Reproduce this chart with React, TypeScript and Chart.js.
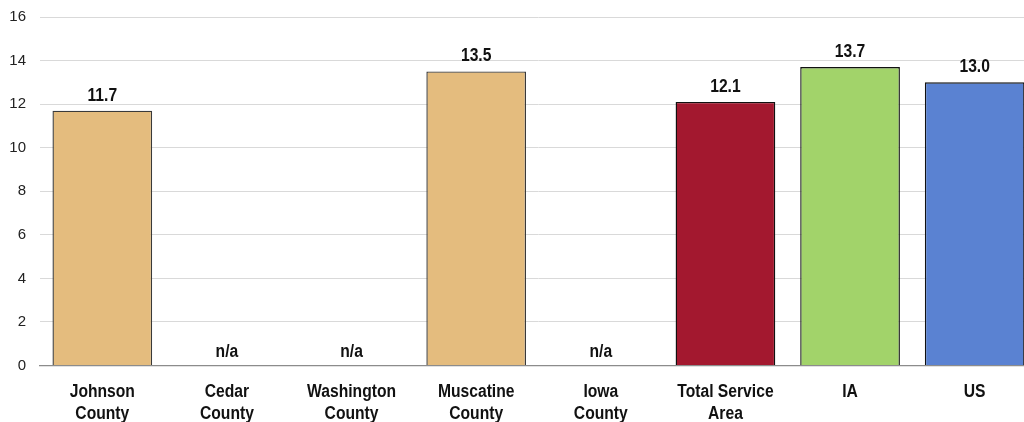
import React, { useEffect, useRef } from "react";
import { Chart, registerables } from "chart.js";

Chart.register(...registerables);

const categories: string[][] = [
  ["Johnson", "County"],
  ["Cedar", "County"],
  ["Washington", "County"],
  ["Muscatine", "County"],
  ["Iowa", "County"],
  ["Total Service", "Area"],
  ["IA"],
  ["US"],
];
const values: (number | null)[] = [11.7, null, null, 13.5, null, 12.1, 13.7, 13.0];
const barColors: string[] = ["#E4BC7E", "#E4BC7E", "#E4BC7E", "#E4BC7E", "#E4BC7E", "#A3182F", "#A2D36A", "#5A82D2"];
const borderColors: string[] = ["#3a3a3a", "#3a3a3a", "#3a3a3a", "#3a3a3a", "#3a3a3a", "#111111", "#111111", "#111111"];
const yTicks: number[] = [0, 2, 4, 6, 8, 10, 12, 14, 16];

const FONT = "'Liberation Sans', Arial, sans-serif";
const SQUEEZE = 0.87;

function drawCondensed(ctx: CanvasRenderingContext2D, text: string, x: number, y: number) {
  ctx.save();
  ctx.translate(x, y);
  ctx.scale(SQUEEZE, 1);
  ctx.fillText(text, 0, 0);
  ctx.restore();
}

const labelPlugin = {
  id: "valueLabels",
  afterDatasetsDraw(chart: any) {
    const ctx = chart.ctx;
    const meta = chart.getDatasetMeta(0);
    const yScale = chart.scales.y;
    const xScale = chart.scales.x;
    const zero = yScale.getPixelForValue(0);
    ctx.save();
    ctx.fillStyle = "#111";
    ctx.textAlign = "center";
    ctx.textBaseline = "alphabetic";
    ctx.font = `bold 18px ${FONT}`;
    meta.data.forEach((bar: any, i: number) => {
      const v = values[i];
      if (v === null) {
        drawCondensed(ctx, "n/a", bar.x, zero - 9);
      } else {
        drawCondensed(ctx, v.toFixed(1), bar.x, bar.y - 10);
      }
    });
    categories.forEach((lines, i) => {
      const x = xScale.getPixelForValue(i);
      lines.forEach((line, j) => {
        drawCondensed(ctx, line, x, zero + 31.5 + j * 22);
      });
    });
    ctx.restore();
  },
};

export default function App() {
  const ref = useRef<HTMLCanvasElement | null>(null);
  useEffect(() => {
    if (!ref.current) return;
    const chart = new Chart(ref.current, {
      type: "bar",
      data: {
        labels: categories.map((c) => c.join(" ")),
        datasets: [
          {
            data: values,
            backgroundColor: barColors,
            borderColor: borderColors,
            borderWidth: 1.4,
            barPercentage: 0.8,
            categoryPercentage: 1,
          },
        ],
      },
      options: {
        animation: false,
        responsive: true,
        maintainAspectRatio: false,
        layout: { padding: { left: 9, right: 8, top: 17, bottom: 56.5 } },
        plugins: { legend: { display: false }, tooltip: { enabled: false } },
        scales: {
          x: {
            grid: { display: false, drawTicks: false },
            border: { display: true, color: "#8c8c8c", width: 1.3 },
            ticks: { display: false },
          },
          y: {
            min: 0,
            max: 16,
            afterBuildTicks: (scale: any) => {
              scale.ticks = yTicks.map((v) => ({ value: v }));
            },
            afterFit: (scale: any) => {
              scale.width = 31;
              scale.paddingTop = 0;
              scale.paddingBottom = 0;
            },
            grid: {
              color: (c: any) => (c.tick && c.tick.value === 0 ? "#8c8c8c" : "#d9d9d9"),
              drawTicks: false,
              lineWidth: 1,
            },
            border: { display: false },
            ticks: {
              color: "#222",
              font: { family: FONT, size: 15 },
              padding: 14,
            },
          },
        },
      },
      plugins: [labelPlugin],
    });
    return () => chart.destroy();
  }, []);
  return (
    <div style={{ position: "fixed", left: 0, top: 0, width: 1024, height: 422, overflow: "hidden", background: "#fff" }}>
      <div style={{ position: "relative", width: 1045, height: 422 }}>
        <canvas ref={ref} />
      </div>
    </div>
  );
}
